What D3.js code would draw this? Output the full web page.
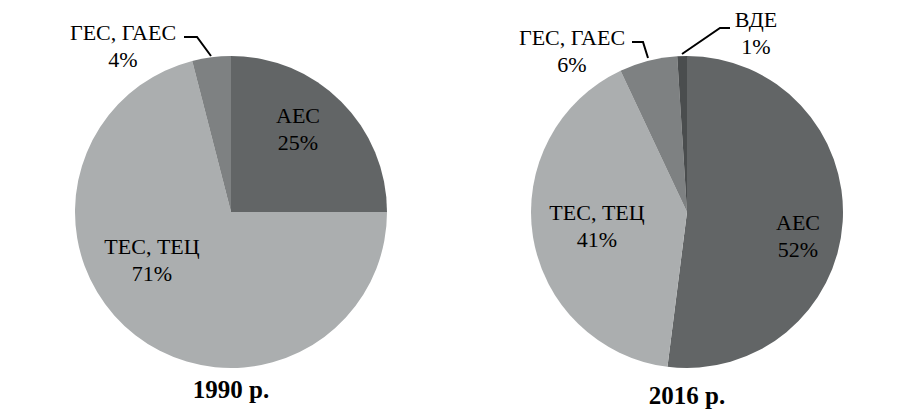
<!DOCTYPE html>
<html><head><meta charset="utf-8">
<script src="https://cdn.jsdelivr.net/npm/d3@7"></script>
<style>body{margin:0;background:#fff}svg{display:block}</style>
</head><body>
<svg id="c" width="901" height="414"></svg>
<script>
const years = ["1990 р.", "2016 р."];
const categories1990 = ["АЕС", "ТЕС, ТЕЦ", "ГЕС, ГАЕС"];
const values1990 = [25, 71, 4];
const categories2016 = ["АЕС", "ТЕС, ТЕЦ", "ГЕС, ГАЕС", "ВДЕ"];
const values2016 = [52, 41, 6, 1];

const colorMap = {"АЕС":"#626566","ТЕС, ТЕЦ":"#abaeaf","ГЕС, ГАЕС":"#7e8182","ВДЕ":"#4a4d4e"};

const svg = d3.select("#c");
const font = "Liberation Serif";
const R = 156;

const pies = [
  {cx:231, cy:212, cats:categories1990, vals:values1990, title:years[0], ty:398,
   labels:{
     "АЕС":{x:298,y:123},
     "ТЕС, ТЕЦ":{x:152,y:254},
     "ГЕС, ГАЕС":{x:123,y:40, line:[[184,37],[197,37],[211,56]]}
   }},
  {cx:687, cy:212, cats:categories2016, vals:values2016, title:years[1], ty:404,
   labels:{
     "АЕС":{x:798,y:230},
     "ТЕС, ТЕЦ":{x:597,y:220},
     "ГЕС, ГАЕС":{x:572,y:45, line:[[632,42],[643,42],[648,58]]},
     "ВДЕ":{x:756,y:27, line:[[730,28],[720,28],[682,54]]}
   }}
];

function label(x, y, s) {
  svg.append("text").attr("x",x).attr("y",y)
    .attr("text-anchor","middle")
    .style("font-family",font).style("font-size","22px").attr("fill","#000")
    .text(s);
}

pies.forEach(p => {
  const data = p.cats.map((c,i)=>({cat:c, val:p.vals[i]}));
  const arcs = d3.pie().sort(null).value(d=>d.val)(data);
  const arc = d3.arc().innerRadius(0).outerRadius(R);
  const g = svg.append("g").attr("transform",`translate(${p.cx},${p.cy})`);
  g.selectAll("path").data(arcs).join("path")
    .attr("d", arc).attr("fill", d=>colorMap[d.data.cat]);

  data.forEach(d => {
    const L = p.labels[d.cat];
    if (L.line) {
      svg.append("path").attr("d", d3.line()(L.line))
        .attr("fill","none").attr("stroke","#000").attr("stroke-width",2);
    }
    label(L.x, L.y, d.cat);
    label(L.x, L.y + 27, d.val + "%");
  });

  svg.append("text").attr("x",p.cx).attr("y",p.ty).attr("text-anchor","middle")
    .style("font-family",font).style("font-weight","bold").style("font-size","25px")
    .attr("fill","#000").text(p.title);
});
</script>
</body></html>
